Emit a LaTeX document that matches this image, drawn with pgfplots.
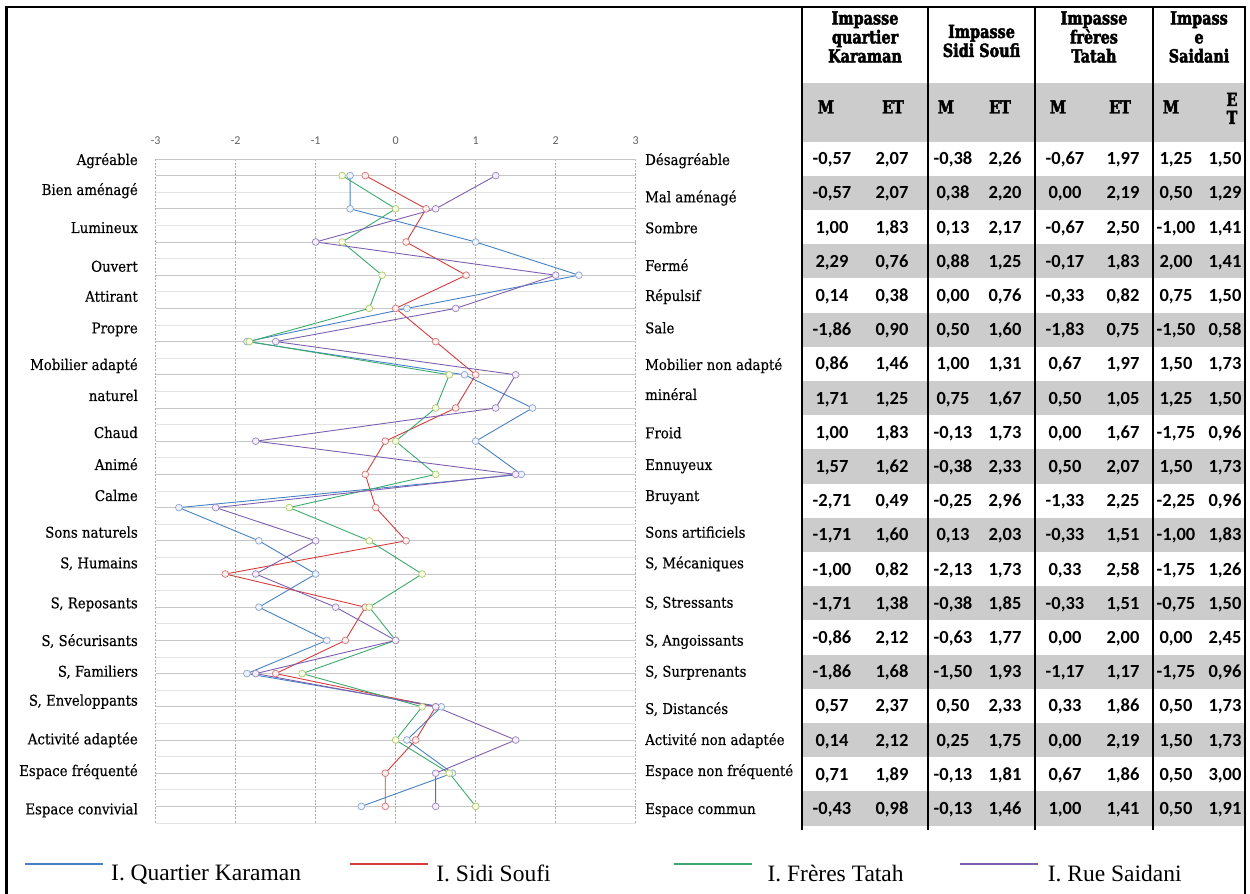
\documentclass[border=0pt]{standalone}
\usepackage{pgfplots}
\usepackage{pgfplotstable}
\pgfplotsset{compat=1.18}
\usepackage{fontspec}
\setmainfont{DejaVu Serif}
\newfontfamily\lblfont{DejaVu Serif}[FakeStretch=0.9, FakeBold=0.35]
\newfontfamily\hdrfont{DejaVu Serif}[FakeStretch=0.8, FakeBold=2.6]
\newfontfamily\numfont{Carlito}
\newfontfamily\legfont{Liberation Serif}

\definecolor{cK}{RGB}{70,130,195}
\definecolor{cS}{RGB}{215,60,60}
\definecolor{cT}{RGB}{60,170,110}
\definecolor{cR}{RGB}{125,95,175}
\definecolor{mK}{RGB}{140,165,205}
\definecolor{mS}{RGB}{205,120,120}
\definecolor{mT}{RGB}{175,200,110}
\definecolor{mR}{RGB}{155,135,190}
\definecolor{fK}{RGB}{238,242,250}
\definecolor{fS}{RGB}{252,238,238}
\definecolor{fT}{RGB}{246,250,230}
\definecolor{fR}{RGB}{243,238,250}
\definecolor{tgrey}{RGB}{204,204,204}

\pgfplotstableread{
Y KM KE SM SE TM TE RM RE
-0.5 -0.57 2.07 -0.38 2.26 -0.67 1.97 1.25 1.50
-1.5 -0.57 2.07 0.38 2.20 0.00 2.19 0.50 1.29
-2.5 1.00 1.83 0.13 2.17 -0.67 2.50 -1.00 1.41
-3.5 2.29 0.76 0.88 1.25 -0.17 1.83 2.00 1.41
-4.5 0.14 0.38 0.00 0.76 -0.33 0.82 0.75 1.50
-5.5 -1.86 0.90 0.50 1.60 -1.83 0.75 -1.50 0.58
-6.5 0.86 1.46 1.00 1.31 0.67 1.97 1.50 1.73
-7.5 1.71 1.25 0.75 1.67 0.50 1.05 1.25 1.50
-8.5 1.00 1.83 -0.13 1.73 0.00 1.67 -1.75 0.96
-9.5 1.57 1.62 -0.38 2.33 0.50 2.07 1.50 1.73
-10.5 -2.71 0.49 -0.25 2.96 -1.33 2.25 -2.25 0.96
-11.5 -1.71 1.60 0.13 2.03 -0.33 1.51 -1.00 1.83
-12.5 -1.00 0.82 -2.13 1.73 0.33 2.58 -1.75 1.26
-13.5 -1.71 1.38 -0.38 1.85 -0.33 1.51 -0.75 1.50
-14.5 -0.86 2.12 -0.63 1.77 0.00 2.00 0.00 2.45
-15.5 -1.86 1.68 -1.50 1.93 -1.17 1.17 -1.75 0.96
-16.5 0.57 2.37 0.50 2.33 0.33 1.86 0.50 1.73
-17.5 0.14 2.12 0.25 1.75 0.00 2.19 1.50 1.73
-18.5 0.71 1.89 -0.13 1.81 0.67 1.86 0.50 3.00
-19.5 -0.43 0.98 -0.13 1.46 1.00 1.41 0.50 1.91
}\datatable

\begin{document}
\begin{tikzpicture}
\useasboundingbox (0,0) rectangle (1250pt,894pt);
% table backgrounds
\begin{scope}[x=1pt,y=-1pt,yshift=894pt]
  \fill[tgrey] (802,83) rectangle (1245,141.7);
  \foreach \r in {1,3,...,19} {
    \fill[tgrey] (802,{141.7+34.2*\r}) rectangle (1245,{141.7+34.2*(\r+1)});
  }
\end{scope}

\begin{axis}[
  at={(155.7pt,71pt)}, anchor=south west,
  scale only axis, width=480pt, height=664pt,
  xmin=-3, xmax=3, ymin=-20, ymax=0,
  clip=false,
  axis line style={draw=none},
  major tick length=0pt, minor tick length=0pt,
  xtick={-3,-2,-1,0,1,2,3},
  xticklabel pos=right,
  xticklabel style={anchor=south, yshift=10.5pt, font=\numfont\fontsize{12}{13}\selectfont, text=gray!75!black},
  /pgf/number format/assume math mode=true,
  ytick={0,-0.5,-1.5,-2.5,-3.5,-4.5,-5.5,-6.5,-7.5,-8.5,-9.5,-10.5,-11.5,-12.5,-13.5,-14.5,-15.5,-16.5,-17.5,-18.5,-19.5},
  minor ytick={-1,-2,-3,-4,-5,-6,-7,-8,-9,-10,-11,-12,-13,-14,-15,-16,-17,-18,-19,-20},
  yticklabels={},
  xmajorgrids, ymajorgrids, yminorgrids,
  major x grid style={gray!65, dash pattern=on 2pt off 1.5pt, line width=0.6pt},
  major y grid style={gray!45, line width=0.6pt},
  minor y grid style={gray!22, line width=0.6pt},
  legend columns=4,
  legend cell align=left,
  legend image code/.code={\draw[#1, line width=2.2pt] (0pt,9.7pt) -- (78pt,9.7pt);},
  legend style={at={(-0.2744,-0.0753)}, anchor=west, draw=none, fill=none,
    inner sep=0pt, outer sep=0pt, column sep=0pt,
    font=\legfont\fontsize{23.5}{26}\selectfont,
    nodes={inner sep=0pt},
    /tikz/every odd column/.append style={column sep=7pt}},
]
\addplot[cK, line width=0.9pt, mark=*, mark size=3.4pt, mark options={solid, draw=mK, fill=fK, line width=0.7pt}] table[x=KM, y=Y] {\datatable};
\addlegendentry{\makebox[238pt][l]{I. Quartier Karaman}}
\addplot[cS, line width=0.9pt, mark=*, mark size=3.4pt, mark options={solid, draw=mS, fill=fS, line width=0.7pt}] table[x=SM, y=Y] {\datatable};
\addlegendentry{\makebox[237pt][l]{I. Sidi Soufi}}
\addplot[cT, line width=0.9pt, mark=*, mark size=3.4pt, mark options={solid, draw=mT, fill=fT, line width=0.7pt}] table[x=TM, y=Y] {\datatable};
\addlegendentry{\makebox[198pt][l]{\hspace*{7pt}I. Frères Tatah}}
\addplot[cR, line width=0.9pt, mark=*, mark size=3.4pt, mark options={solid, draw=mR, fill=fR, line width=0.7pt}] table[x=RM, y=Y] {\datatable};
\addlegendentry{\hspace*{2pt}I. Rue Saidani}
\end{axis}

\begin{scope}[x=1pt,y=-1pt,yshift=894pt]
  % left labels
  \foreach \t/\yy in {Agréable/160, Bien aménagé/190, Lumineux/228, Ouvert/266.7, Attirant/296.7, Propre/328.3, Mobilier adapté/365, naturel/396, Chaud/433, Animé/465, Calme/496, Sons naturels/532.7, {S, Humains}/563.3, {S, Reposants}/603.3, {S, Sécurisants}/641, {S, Familiers}/671.7, {S, Enveloppants}/700.7, Activité adaptée/739.3, Espace fréquenté/771, Espace convivial/809.3} {
    \node[anchor=base east, inner sep=0pt, font=\lblfont\fontsize{14.8}{17}\selectfont] at (138,{\yy+5}) {\t};
  }
  % right labels
  \foreach \t/\yy in {Désagréable/160, Mal aménagé/197.3, Sombre/228.3, Fermé/266, Répulsif/296, Sale/328.3, Mobilier non adapté/365, minéral/395, Froid/433.3, Ennuyeux/465, Bruyant/496, Sons artificiels/532.7, {S, Mécaniques}/563.3, {S, Stressants}/602.7, {S, Angoissants}/640.7, {S, Surprenants}/671.7, {S, Distancés}/709, Activité non adaptée/740, Espace non fréquenté/771, Espace commun/809} {
    \node[anchor=base west, inner sep=0pt, font=\lblfont\fontsize{14.8}{17}\selectfont] at (645,{\yy+5}) {\t};
  }
  % table numbers
  \foreach \r in {0,...,19} {
    \foreach \c/\xx in {KM/832,KE/892,SM/953,SE/1005,TM/1065,TE/1123,RM/1176,RE/1225} {
      \pgfplotstablegetelem{\r}{\c}\of\datatable
      \node[anchor=base, inner sep=0pt, font=\numfont\bfseries\fontsize{18.5}{20}\selectfont] at (\xx,{141.7+34.2*(\r+0.5)+5.9}) {\pgfmathprintnumber[fixed,fixed zerofill,precision=2,use comma,assume math mode=true]{\pgfplotsretval}};
    }
  }
  % headers
  \tikzset{hdr/.style={align=center, inner sep=0pt, font=\hdrfont\bfseries\fontsize{18}{19}\selectfont}}
  \node[hdr] at (865,37) {Impasse\\quartier\\Karaman};
  \node[hdr] at (981.5,41) {Impasse\\Sidi Soufi};
  \node[hdr] at (1094,37) {Impasse\\frères\\Tatah};
  \node[hdr] at (1199,37) {Impass\\e\\Saidani};
  \tikzset{hdr2/.style={anchor=base, inner sep=0pt, font=\hdrfont\bfseries\fontsize{18}{19}\selectfont}}
  \node[hdr2] at (826,113.5) {M};
  \node[hdr2] at (893,113.5) {ET};
  \node[hdr2] at (946,113.5) {M};
  \node[hdr2] at (1000,113.5) {ET};
  \node[hdr2] at (1058,113.5) {M};
  \node[hdr2] at (1120,113.5) {ET};
  \node[hdr2] at (1171,113.5) {M};
  \node[hdr2] at (1232,106) {E};
  \node[hdr2] at (1232,124) {T};
  % table lines
  \foreach \xx in {802,928,1035,1153} {
    \draw[line width=1.5pt] (\xx,7) -- (\xx,830);
  }
  % frame
  \draw[line width=3pt] (6,894) -- (6,6);
  \draw[line width=2.5pt] (4.5,7) -- (1246,7);
  \draw[line width=2.5pt] (1245,6) -- (1245,894);
\end{scope}
\end{tikzpicture}
\end{document}
